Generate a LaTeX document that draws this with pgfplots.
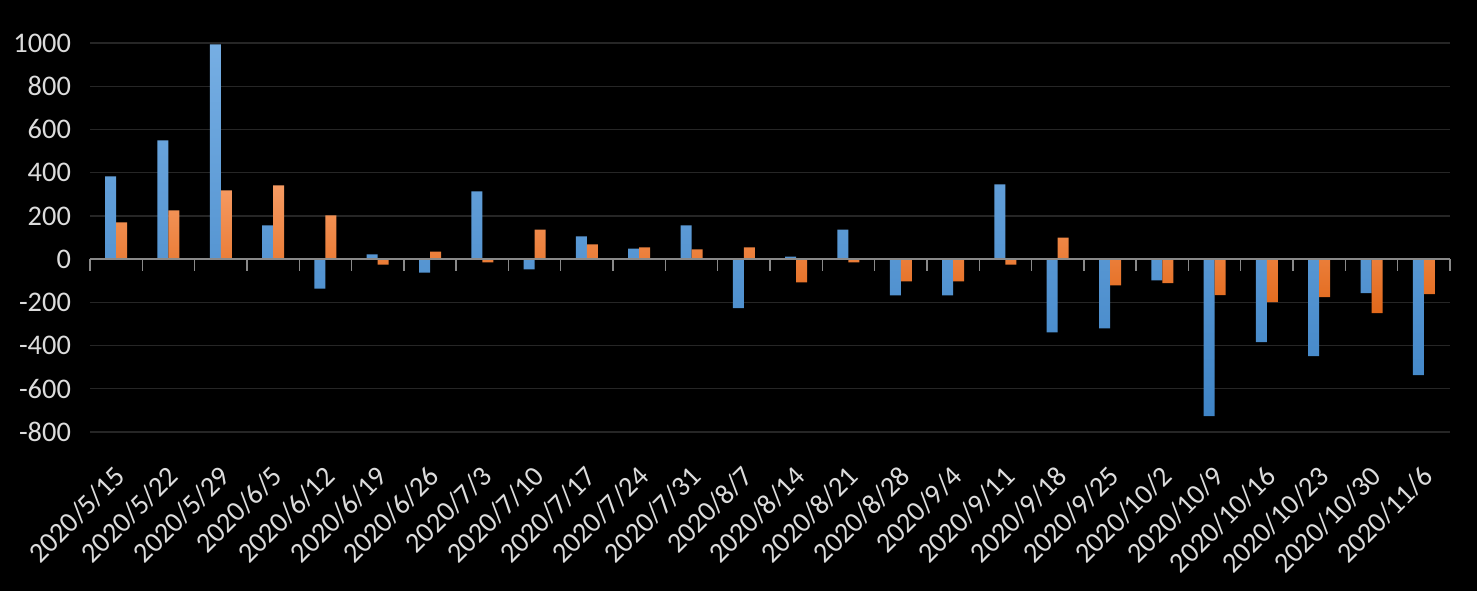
\documentclass[border=0pt]{standalone}
\usepackage{pgfplots}
\pgfplotsset{compat=1.18}
\usepackage{pgfplotstable}
\usepackage{fontspec}
\setmainfont{Carlito}
\definecolor{blueT}{HTML}{76AEE3}
\definecolor{blueB}{HTML}{3F84C6}
\definecolor{orT}{HTML}{F69B63}
\definecolor{orB}{HTML}{E2681A}
\definecolor{gridc}{HTML}{262626}
\definecolor{axc}{HTML}{898989}
\definecolor{labc}{HTML}{DCDCDC}
\pgfplotstableread{
x blue orange
0 383 170
1 549 225
2 994 318
3 156 341
4 -136 202
5 22 -25
6 -62 35
7 313 -15
8 -48 137
9 105 68
10 49 54
11 156 45
12 -227 54
13 12 -108
14 137 -15
15 -168 -103
16 -168 -103
17 346 -25
18 -339 100
19 -321 -122
20 -98 -111
21 -727 -167
22 -384 -199
23 -449 -176
24 -157 -250
25 -537 -162
}\datatab
\begin{document}
\begin{tikzpicture}
\fill[black] (-45pt,-79.5pt) rectangle (693.5pt,216pt);
\begin{axis}[
  scale only axis, width=680pt, height=194.5pt,
  xmin=-0.5, xmax=25.5, ymin=-800, ymax=1000,
  ybar=0pt, bar width=5.5pt,
  axis line style={draw=none},
  xtick={0,...,25},
  xticklabels={2020/5/15,2020/5/22,2020/5/29,2020/6/5,2020/6/12,2020/6/19,2020/6/26,2020/7/3,2020/7/10,2020/7/17,2020/7/24,2020/7/31,2020/8/7,2020/8/14,2020/8/21,2020/8/28,2020/9/4,2020/9/11,2020/9/18,2020/9/25,2020/10/2,2020/10/9,2020/10/16,2020/10/23,2020/10/30,2020/11/6},
  ytick={-800,-600,...,1000},
  major tick length=0pt,
  ymajorgrids, grid style={color=gridc, line width=0.7pt},
  tick label style={font=\fontsize{14.2}{16}\selectfont, text=labc},
  /pgf/number format/assume math mode=true,
  /pgf/number format/1000 sep={},
  yticklabel style={anchor=east, xshift=-6pt},
  xticklabel style={xshift=-1.5pt, yshift=-11pt, rotate=45, anchor=north east},
  clip=false,
]
\addplot[draw=none, top color=blueT, bottom color=blueB] table[x=x, y=blue] {\datatab};
\addplot[draw=none, top color=orT, bottom color=orB] table[x=x, y=orange] {\datatab};
\draw[axc, line width=0.8pt] (axis cs:-0.5,0) -- (axis cs:25.5,0);
\pgfplotsinvokeforeach{0,...,26}{
  \draw[axc, line width=0.7pt] (axis cs:#1-0.5,0) -- ([yshift=-6pt]axis cs:#1-0.5,0);
}
\end{axis}
\pgfresetboundingbox
\path (-45pt,-79.5pt) rectangle (693.5pt,216pt);
\end{tikzpicture}
\end{document}
